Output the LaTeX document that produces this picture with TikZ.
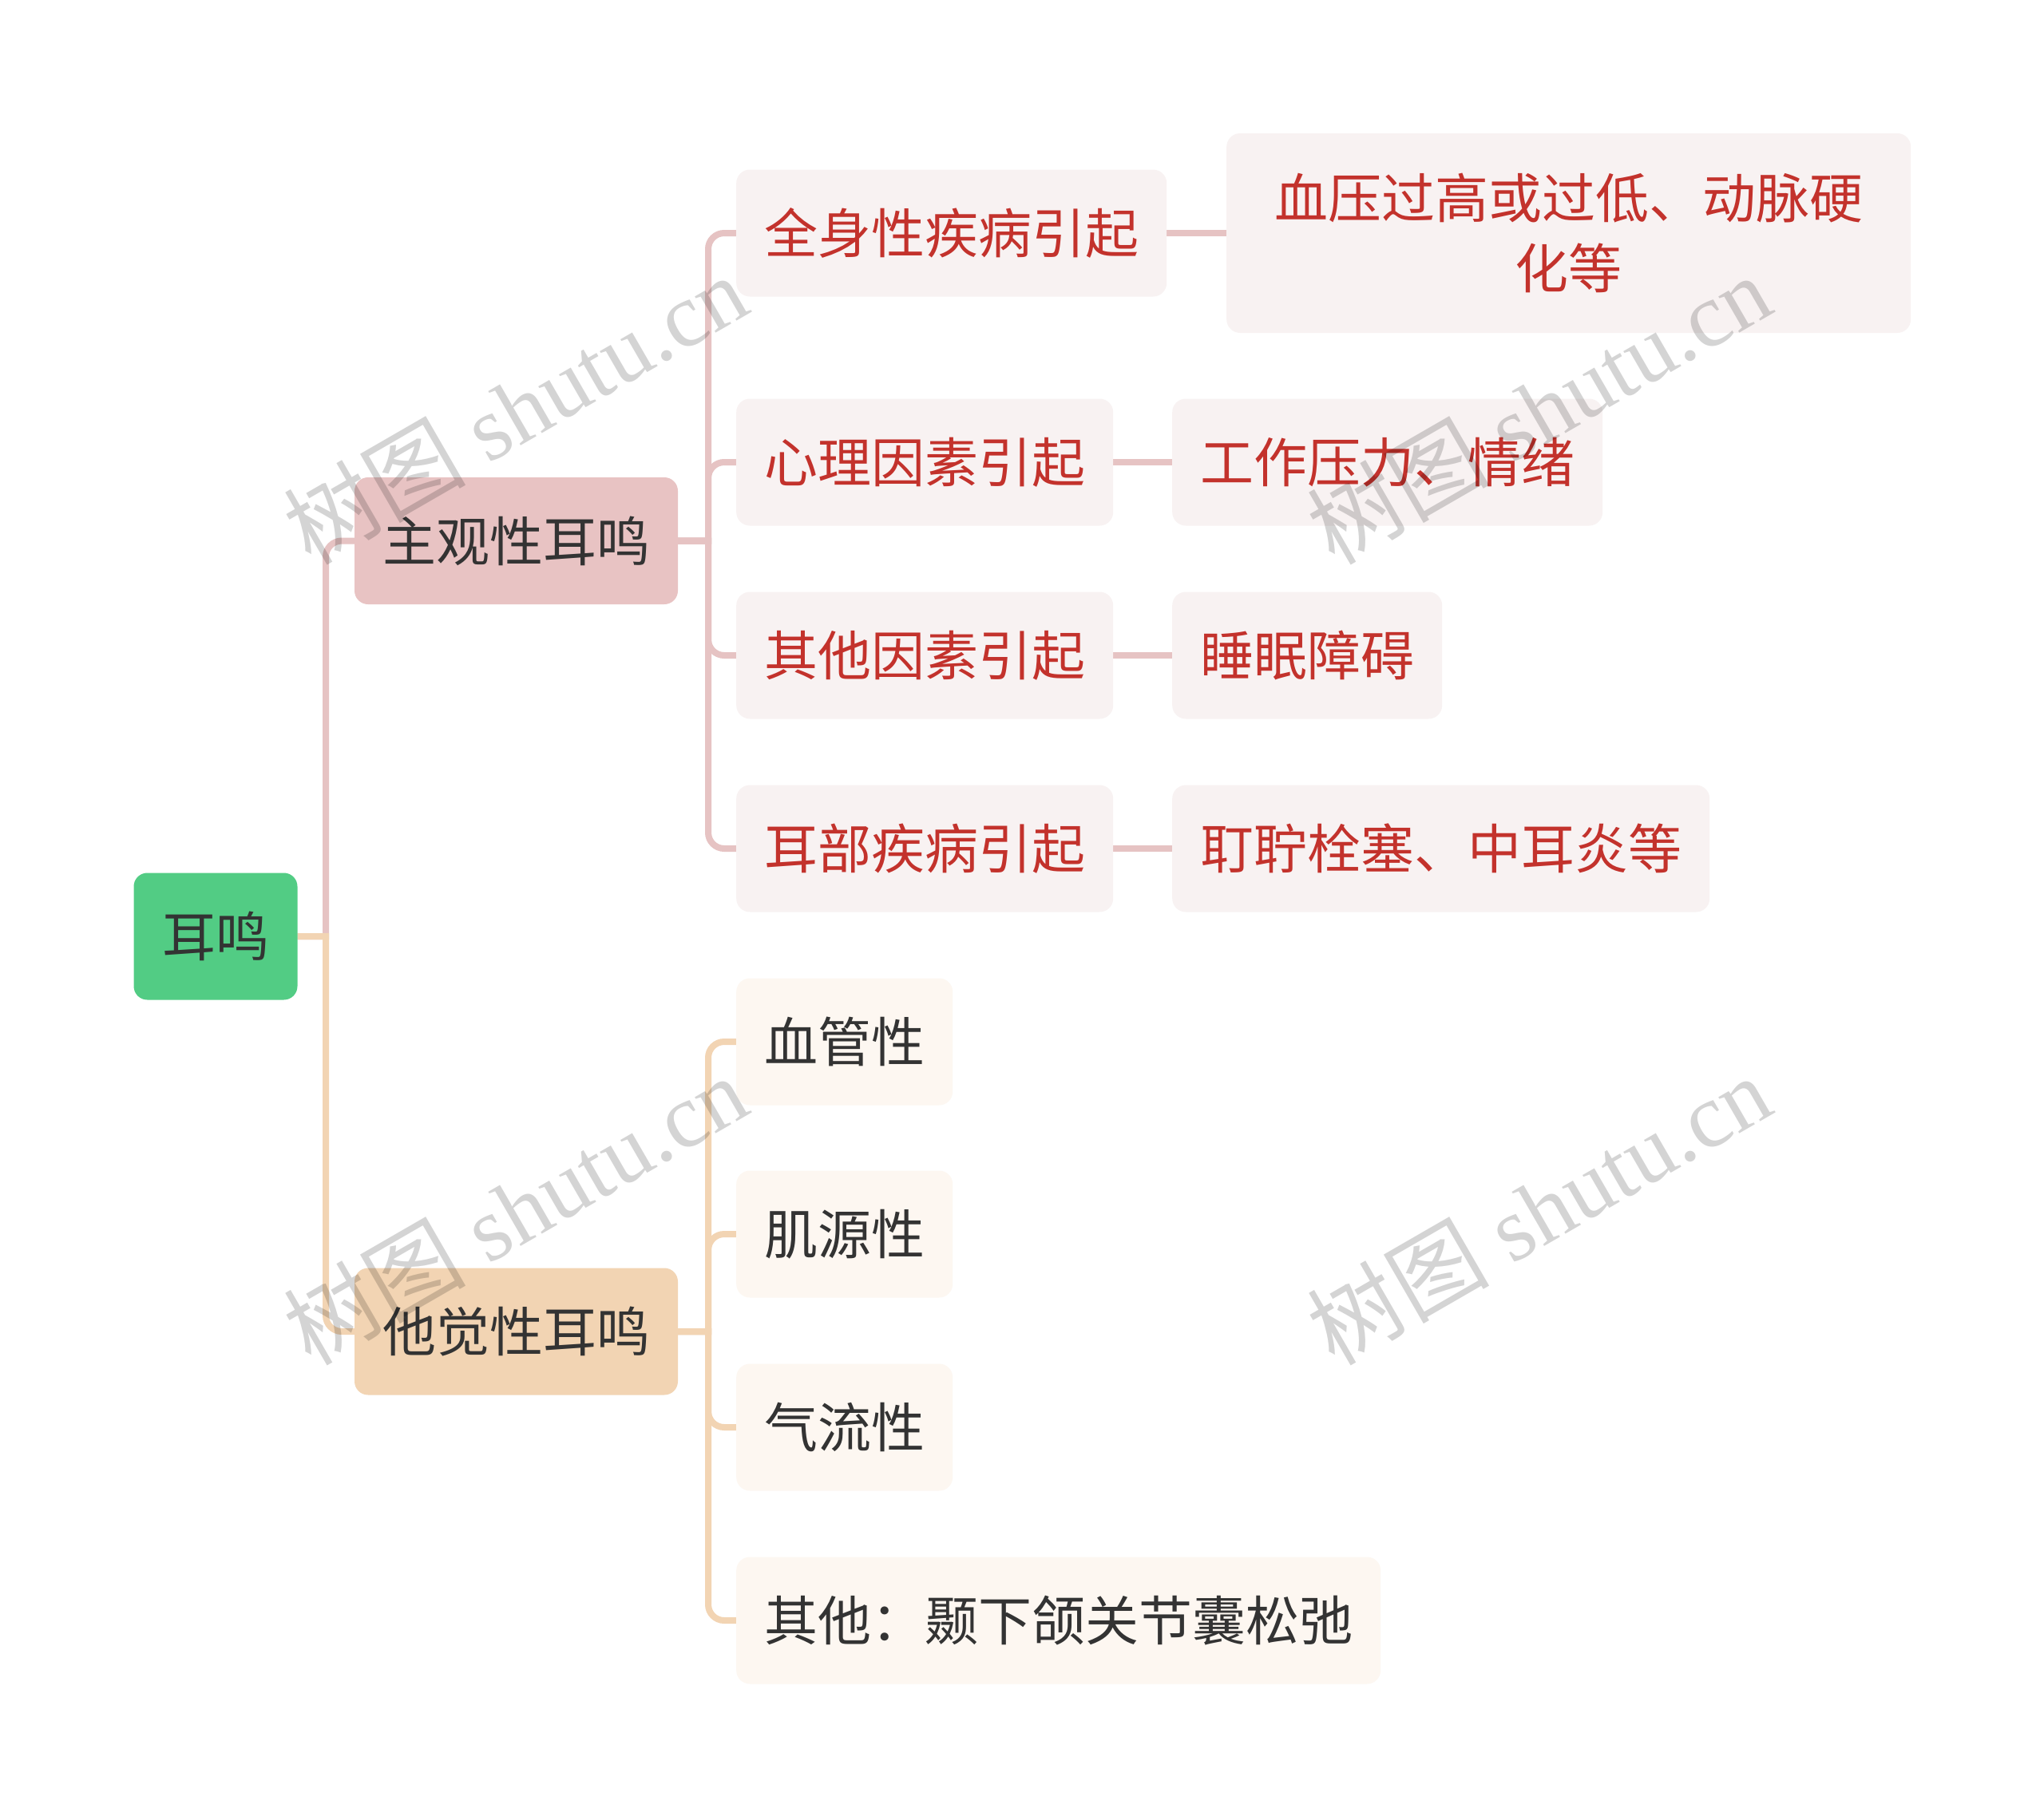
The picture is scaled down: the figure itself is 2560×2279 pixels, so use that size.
\documentclass[tikz,border=0pt]{standalone}
\usepackage{fontspec}
\setmainfont{Liberation Serif}
\newfontfamily\cjk{Noto Sans CJK SC}
\pgfdeclarelayer{bg}
\pgfsetlayers{bg,main}
\definecolor{rootgreen}{HTML}{52CC84}
\definecolor{pinkfill}{HTML}{E8C3C3}
\definecolor{peachfill}{HTML}{F2D4B3}
\definecolor{pinklite}{HTML}{F8F2F2}
\definecolor{peachlite}{HTML}{FDF7F1}
\definecolor{redtext}{HTML}{C3322C}
\definecolor{darktext}{HTML}{333333}
\definecolor{pinkline}{HTML}{E6C3C3}
\definecolor{peachline}{HTML}{F2D4B3}
\begin{document}
\begin{tikzpicture}[x=1pt,y=-1pt,
  boxbase/.style={rounded corners=17pt, inner ysep=0pt, font=\cjk\fontsize{67}{88}\selectfont},
  box/.style={boxbase, inner xsep=35pt, minimum height=159pt, text height=59pt, text depth=8pt},
  rootbox/.style={box, fill=rootgreen, text=darktext, minimum width=205pt},
  pinkmain/.style={box, fill=pinkfill, text=darktext},
  peachmain/.style={box, fill=peachfill, text=darktext},
  redsub/.style={box, fill=pinklite, text=redtext, anchor=west},
  redsubtwo/.style={boxbase, fill=pinklite, text=redtext, anchor=west, inner xsep=60pt, minimum height=250pt, align=center},
  peachsub/.style={box, fill=peachlite, text=darktext, anchor=west},
  pl/.style={draw=pinkline, line width=8pt},
  ol/.style={draw=peachline, line width=8pt},
  wm/.style={rotate=30, text=black, text opacity=0.17, inner sep=0pt, font=\fontsize{114}{114}\selectfont}
]
\useasboundingbox (0,0) rectangle (2560,2279);

% nodes
\node[rootbox] (root) at (270,1173) {耳鸣};
\node[pinkmain] (s1) at (646.5,677.5) {主观性耳鸣};
\node[peachmain] (s2) at (646.5,1668) {他觉性耳鸣};

\node[redsub] (a1) at (922,292) {全身性疾病引起};
\node[redsub] (a2) at (922,579) {心理因素引起};
\node[redsub] (a3) at (922,821) {其他因素引起};
\node[redsub] (a4) at (922,1063) {耳部疾病引起};

\node[redsubtwo] (b1) at (1536,292) {血压过高或过低、动脉硬\\化等};
\node[redsub] (b2) at (1468,579) {工作压力、情绪};
\node[redsub] (b3) at (1468,821) {睡眠障碍};
\node[redsub] (b4) at (1468,1063) {耵聍栓塞、中耳炎等};

\node[peachsub] (c1) at (922,1305) {血管性};
\node[peachsub] (c2) at (922,1546) {肌源性};
\node[peachsub] (c3) at (922,1788) {气流性};
\node[peachsub] (c4) at (922,2030) {其他：颞下颌关节囊松弛};

\coordinate (j0) at (408,1173);
\coordinate (j1) at (887,677.5);
\coordinate (j2) at (887,1668);

\begin{pgfonlayer}{bg}
  \fill[white] (0,0) rectangle (2560,2279);
  \draw[pl] (root.east) -- (j0) [rounded corners=20pt] -- (j0 |- s1.west) -- (s1.west);
  \draw[ol] (root.east) -- (j0) [rounded corners=20pt] -- (j0 |- s2.west) -- (s2.west);
  \foreach \n in {a1,a2,a3,a4}{
    \draw[pl] (s1.east) -- (j1) [rounded corners=20pt] -- (j1 |- \n.west) -- (\n.west);
  }
  \foreach \n in {c1,c2,c3,c4}{
    \draw[ol] (s2.east) -- (j2) [rounded corners=20pt] -- (j2 |- \n.west) -- (\n.west);
  }
  \draw[pl] (a1.east) -- (b1.west);
  \draw[pl] (a2.east) -- (b2.west);
  \draw[pl] (a3.east) -- (b3.west);
  \draw[pl] (a4.east) -- (b4.west);
\end{pgfonlayer}

% watermarks
\node[wm] (w1) at (645,512) {{\cjk 树图} shutu.cn};
\node[wm] (w2) at (1927,512) {{\cjk 树图} shutu.cn};
\node[wm] (w3) at (645,1515) {{\cjk 树图} shutu.cn};
\node[wm] (w4) at (1927,1515) {{\cjk 树图} shutu.cn};
\end{tikzpicture}
\end{document}
